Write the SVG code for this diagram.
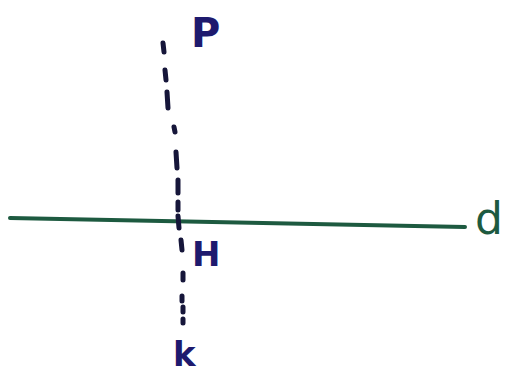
<svg xmlns="http://www.w3.org/2000/svg" width="511" height="376" viewBox="0 0 511 376">
<style>
.lbl{font-family:"DejaVu Sans",sans-serif;fill:#1e1a6e;font-size:40px;font-weight:bold}
.dash{stroke:#16163a;stroke-width:5;stroke-linecap:round;fill:none}
.ln{stroke:#1d5a40;stroke-width:4;stroke-linecap:round;fill:none}
</style>
<rect width="511" height="376" fill="#ffffff"/>
<g id="line-d">
<path class="ln" d="M10 218 L465 227"/>
<text x="475" y="234" style="font-family:'DejaVu Sans',sans-serif;font-size:44px;fill:#1d5a40">d</text>
</g>
<g id="connectors">
<path class="dash" d="M163 43 L164 52 M165 70 L166 80 M167 92 L168 108 M174 127 L175 132 M176 152 L177 168 M178 180 L178 193 M178 202 L178 210 M178 216 L179 228 M181 240 L182 250 M183 273 L183 280 M182 296 L182 301 M183 307 L183 312 M183 319 L183 323"/>
</g>
<g id="node-P"><text class="lbl" x="191" y="47">P</text></g>
<g id="node-H"><text class="lbl" x="192" y="266" style="font-size:34px">H</text></g>
<g id="node-k"><text class="lbl" x="173" y="366" style="font-size:34px">k</text></g>
</svg>
